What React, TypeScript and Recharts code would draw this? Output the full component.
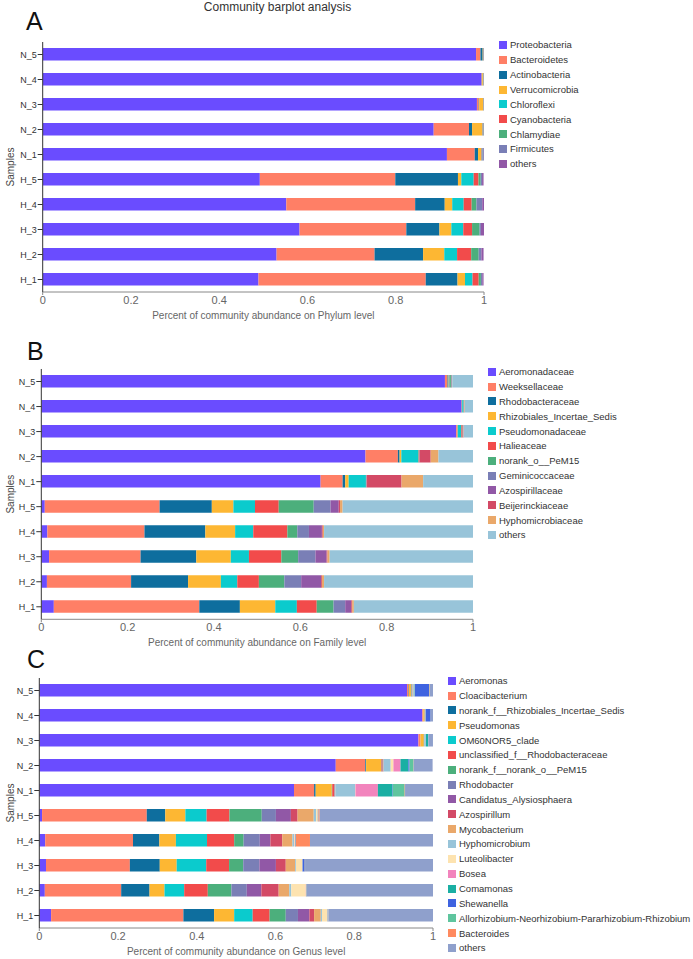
import { BarChart, Bar, XAxis, YAxis, Legend } from "recharts";

const FONT = '"Liberation Sans", Arial, sans-serif';

const samples = ["N_5", "N_4", "N_3", "N_2", "N_1", "H_5", "H_4", "H_3", "H_2", "H_1"];
const xTicks = [0, 0.2, 0.4, 0.6, 0.8, 1];

// Phylum level (panel A)
const phylumNames = [
  "Proteobacteria", "Bacteroidetes", "Actinobacteria", "Verrucomicrobia", "Chloroflexi",
  "Cyanobacteria", "Chlamydiae", "Firmicutes", "others",
];
const phylumColors = ["#6a4cff", "#ff7f66", "#0e6e9e", "#fdb733", "#0bcbcd", "#f24b4b", "#4caf7c", "#7a7fb6", "#9158a6"];
const phylumValues = [
  [0.982, 0.010, 0.005, 0.001, 0.0005, 0.0005, 0.0003, 0.0003, 0.0004],
  [0.994, 0.001, 0.001, 0.002, 0.0005, 0.0005, 0.0005, 0.0003, 0.0002],
  [0.984, 0.004, 0.001, 0.009, 0.0005, 0.0005, 0.0004, 0.0003, 0.0003],
  [0.886, 0.080, 0.007, 0.023, 0.001, 0.001, 0.001, 0.0005, 0.0005],
  [0.916, 0.063, 0.0075, 0.007, 0.001, 0.001, 0.001, 0.003, 0.0005],
  [0.492, 0.307, 0.142, 0.0076, 0.028, 0.011, 0.005, 0.003, 0.0034],
  [0.552, 0.292, 0.067, 0.017, 0.026, 0.018, 0.011, 0.013, 0.004],
  [0.582, 0.242, 0.075, 0.027, 0.027, 0.020, 0.017, 0.003, 0.007],
  [0.530, 0.222, 0.110, 0.048, 0.029, 0.032, 0.017, 0.006, 0.005],
  [0.489, 0.379, 0.072, 0.017, 0.017, 0.014, 0.005, 0.003, 0.003],
];

// Family level (panel B)
const familyNames = [
  "Aeromonadaceae", "Weeksellaceae", "Rhodobacteraceae", "Rhizobiales_Incertae_Sedis", "Pseudomonadaceae",
  "Halieaceae", "norank_o__PeM15", "Geminicoccaceae", "Azospirillaceae", "Beijerinckiaceae",
  "Hyphomicrobiaceae", "others",
];
const familyColors = [
  "#6a4cff", "#ff7f66", "#0e6e9e", "#fdb733", "#0bcbcd", "#f24b4b",
  "#4caf7c", "#7a7fb6", "#9158a6", "#d34a66", "#eaa86a", "#98c4d9",
];
const familyValues = [
  [0.935, 0.006, 0.002, 0.001, 0.002, 0.001, 0.003, 0.0005, 0.0005, 0.0005, 0.0005, 0.048],
  [0.973, 0.001, 0.0005, 0.0005, 0.003, 0.0005, 0.0005, 0.0003, 0.0002, 0.0005, 0.001, 0.0195],
  [0.961, 0.003, 0.0005, 0.0005, 0.008, 0.003, 0.0005, 0.0005, 0.0005, 0.0005, 0.0005, 0.0215],
  [0.751, 0.075, 0.004, 0.004, 0.039, 0.001, 0.001, 0.0005, 0.0005, 0.026, 0.018, 0.080],
  [0.647, 0.051, 0.006, 0.008, 0.040, 0.001, 0.0005, 0.0005, 0.0005, 0.080, 0.050, 0.1155],
  [0.008, 0.266, 0.121, 0.050, 0.050, 0.055, 0.081, 0.039, 0.019, 0.003, 0.006, 0.302],
  [0.014, 0.225, 0.141, 0.069, 0.042, 0.079, 0.023, 0.027, 0.030, 0.002, 0.003, 0.345],
  [0.018, 0.212, 0.129, 0.080, 0.042, 0.075, 0.039, 0.040, 0.026, 0.002, 0.005, 0.332],
  [0.013, 0.195, 0.132, 0.076, 0.038, 0.050, 0.059, 0.039, 0.046, 0.002, 0.005, 0.345],
  [0.029, 0.337, 0.094, 0.082, 0.050, 0.046, 0.039, 0.027, 0.014, 0.002, 0.004, 0.276],
];

// Genus level (panel C)
const genusNames = [
  "Aeromonas", "Cloacibacterium", "norank_f__Rhizobiales_Incertae_Sedis", "Pseudomonas", "OM60NOR5_clade",
  "unclassified_f__Rhodobacteraceae", "norank_f__norank_o__PeM15", "Rhodobacter", "Candidatus_Alysiosphaera",
  "Azospirillum", "Mycobacterium", "Hyphomicrobium", "Luteolibacter", "Bosea", "Comamonas", "Shewanella",
  "Allorhizobium-Neorhizobium-Pararhizobium-Rhizobium", "Bacteroides", "others",
];
const genusColors = [
  "#6a4cff", "#ff7f66", "#0e6e9e", "#fdb733", "#0bcbcd", "#f24b4b", "#4caf7c", "#7a7fb6", "#9158a6",
  "#d34a66", "#eaa86a", "#98c4d9", "#fde3b0", "#f284bd", "#1aafa3", "#3f63e0", "#5fc59e", "#ff8a5f", "#8fa0cc",
];
const genusValues = [
  [0.934, 0.004, 0.001, 0.005, 0.001, 0.0005, 0.0005, 0.0005, 0.0005, 0.0005, 0.001, 0.003, 0.001, 0.0005, 0.001, 0.036, 0.001, 0.001, 0.008],
  [0.973, 0.002, 0.0003, 0.003, 0.0003, 0.0002, 0.0001, 0.0001, 0.0001, 0.0001, 0.001, 0.0005, 0.0003, 0.0001, 0.0004, 0.0125, 0.0003, 0.0002, 0.0055],
  [0.963, 0.005, 0.0002, 0.0085, 0.0002, 0.0001, 0.0001, 0.0001, 0.0001, 0.0001, 0.0002, 0.004, 0.0002, 0.0001, 0.006, 0.0002, 0.0002, 0.0001, 0.0115],
  [0.753, 0.075, 0.002, 0.038, 0.001, 0.003, 0.0005, 0.0005, 0.0005, 0.0005, 0.0005, 0.018, 0.007, 0.018, 0.020, 0.003, 0.010, 0.0005, 0.048],
  [0.647, 0.051, 0.004, 0.041, 0.001, 0.005, 0.0005, 0.0005, 0.0005, 0.0005, 0.001, 0.050, 0.001, 0.057, 0.037, 0.001, 0.030, 0.001, 0.071],
  [0.007, 0.266, 0.047, 0.051, 0.054, 0.058, 0.082, 0.036, 0.038, 0.017, 0.041, 0.006, 0.004, 0.0005, 0.0005, 0.0005, 0.0005, 0.003, 0.288],
  [0.015, 0.223, 0.067, 0.042, 0.079, 0.069, 0.024, 0.041, 0.027, 0.030, 0.026, 0.004, 0.002, 0.0005, 0.0005, 0.001, 0.0005, 0.036, 0.3125],
  [0.017, 0.213, 0.076, 0.043, 0.075, 0.058, 0.036, 0.041, 0.042, 0.025, 0.024, 0.002, 0.016, 0.0005, 0.0005, 0.005, 0.0005, 0.0005, 0.325],
  [0.014, 0.194, 0.072, 0.038, 0.050, 0.060, 0.060, 0.039, 0.037, 0.044, 0.027, 0.005, 0.037, 0.0005, 0.0005, 0.0005, 0.0005, 0.0005, 0.3205],
  [0.030, 0.336, 0.078, 0.051, 0.047, 0.043, 0.041, 0.031, 0.029, 0.012, 0.017, 0.003, 0.014, 0.0005, 0.0005, 0.0005, 0.0005, 0.0005, 0.2655],
];

const LEGEND_STEP = 14.85;

function buildRows(values: number[][]) {
  return samples.map((s, i) => {
    const row: Record<string, string | number> = { sample: s };
    values[i].forEach((v, j) => {
      row[`s${j}`] = v;
    });
    return row;
  });
}

// x ticks: label plus the outer tick only at both ends
const XTick = (props: any) => {
  const { x, y, payload } = props;
  const v = payload.value;
  return (
    <g>
      {(v === 0 || v === 1) && <line x1={x} x2={x} y1={y - 4} y2={y - 1} stroke="#888" />}
      <text x={x} y={y} dy={8} textAnchor="middle" fill="#666" fontSize={11} fontFamily={FONT}>
        {v}
      </text>
    </g>
  );
};

interface PanelProps {
  plotTop: number;
  plotBottom: number;
  plotLeft: number;
  plotRight: number;
  names: string[];
  colors: string[];
  values: number[][];
  xLabel: string;
  legendLeft: number;
  legendFirst: number;
}

function Panel({ plotTop, plotBottom, plotLeft, plotRight, names, colors, values, xLabel, legendLeft, legendFirst }: PanelProps) {
  const chartTop = plotTop - 12;
  const xAxisH = 30;
  const height = plotBottom - chartTop + xAxisH;
  const rows = buildRows(values);

  const renderLegend = () => (
    <div style={{ fontFamily: FONT, fontSize: 9.5, color: "#333" }}>
      {names.map((n, i) => (
        <div key={n} style={{ display: "flex", alignItems: "center", height: LEGEND_STEP, whiteSpace: "nowrap" }}>
          <span style={{ display: "inline-block", flexShrink: 0, width: 8, height: 8, background: colors[i], marginRight: 3 }} />
          <span>{n}</span>
        </div>
      ))}
    </div>
  );

  return (
    <div style={{ position: "absolute", left: 0, top: chartTop }}>
      <BarChart
        width={693}
        height={height}
        data={rows}
        layout="vertical"
        barSize={12.5}
        margin={{ top: 12, right: 693 - plotRight, bottom: 0, left: 0 }}
      >
        <XAxis
          type="number"
          domain={[0, 1]}
          ticks={xTicks}
          allowDataOverflow
          height={xAxisH}
          axisLine={{ stroke: "#888" }}
          tickLine={false}
          tickSize={3}
          tickMargin={1}
          tick={<XTick />}
          label={{ value: xLabel, position: "insideBottom", offset: 3, style: { fill: "#666", fontSize: 10, fontFamily: FONT } }}
        />
        <YAxis
          type="category"
          dataKey="sample"
          width={plotLeft}
          axisLine={{ stroke: "#333" }}
          tickLine={{ stroke: "#333" }}
          tickSize={5}
          tickMargin={1}
          tick={{ fill: "#333", fontSize: 9, fontFamily: FONT }}
          label={{
            value: "Samples",
            angle: -90,
            position: "insideLeft",
            offset: 10,
            style: { textAnchor: "middle", fill: "#444", fontSize: 10, fontFamily: FONT },
          }}
        />
        <Legend
          layout="horizontal"
          align="center"
          verticalAlign="middle"
          content={renderLegend}
          wrapperStyle={{ left: legendLeft, top: legendFirst - chartTop - LEGEND_STEP / 2, width: 693 - legendLeft }}
        />
        {names.map((n, j) => (
          <Bar key={n} dataKey={`s${j}`} name={n} stackId="a" fill={colors[j]} isAnimationActive={false} />
        ))}
      </BarChart>
    </div>
  );
}

const letterStyle = {
  position: "absolute" as const,
  fontFamily: FONT,
  fontSize: 25,
  lineHeight: "25px",
  color: "#111",
};

export default function App() {
  return (
    <div style={{ position: "absolute", left: 0, top: 0, width: 693, height: 959, background: "#fff", fontFamily: FONT }}>
      <div style={{ position: "absolute", left: 0, width: 555, top: 0.5, textAlign: "center", fontSize: 12, lineHeight: "12px", color: "#333" }}>
        Community barplot analysis
      </div>
      <div style={{ ...letterStyle, left: 26, top: 8.8 }}>A</div>
      <div style={{ ...letterStyle, left: 27, top: 338.8 }}>B</div>
      <div style={{ ...letterStyle, left: 27, top: 646.8 }}>C</div>

      <Panel
        plotTop={41.7}
        plotBottom={291.7}
        plotLeft={42.7}
        plotRight={484}
        names={phylumNames}
        colors={phylumColors}
        values={phylumValues}
        xLabel="Percent of community abundance on Phylum level"
        legendLeft={499}
        legendFirst={45}
      />
      <Panel
        plotTop={369}
        plotBottom={619.3}
        plotLeft={41.3}
        plotRight={473}
        names={familyNames}
        colors={familyColors}
        values={familyValues}
        xLabel="Percent of community abundance on Family level"
        legendLeft={488}
        legendFirst={371.7}
      />
      <Panel
        plotTop={678}
        plotBottom={928}
        plotLeft={39.3}
        plotRight={433}
        names={genusNames}
        colors={genusColors}
        values={genusValues}
        xLabel="Percent of community abundance on Genus level"
        legendLeft={448}
        legendFirst={680.7}
      />
    </div>
  );
}
